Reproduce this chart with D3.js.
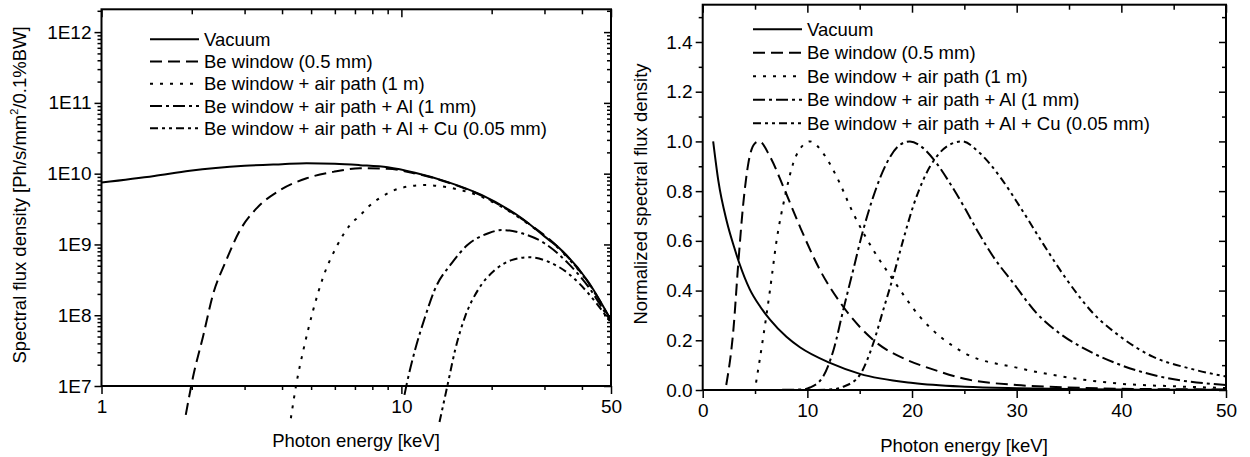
<!DOCTYPE html>
<html>
<head>
<meta charset="utf-8">
<script src="https://cdn.jsdelivr.net/npm/d3@7/dist/d3.min.js"></script>
<style>
  body { margin: 0; background: #fff; }
  svg text { font-family: "Liberation Sans", Arial, sans-serif; fill: #000; }
</style>
</head>
<body>
<script>
// series names, shared by both panels
const seriesNames = [
    "Vacuum",
    "Be window (0.5 mm)",
    "Be window + air path (1 m)",
    "Be window + air path + Al (1 mm)",
    "Be window + air path + Al + Cu (0.05 mm)"
];

// left panel: spectral flux density [Ph/s/mm2/0.1%BW] vs photon energy [keV]
const vacE = [1, 1.5, 1.97, 3.0, 4.0, 4.83, 6.0, 7.27, 9.0, 11.1, 14.3, 18.5, 25.2, 30, 34.2, 42, 50];
const vacF = [7.5e9, 9.3e9, 1.10e10, 1.29e10, 1.36e10, 1.40e10, 1.38e10, 1.32e10, 1.23e10, 1.03e10, 7.6e9, 5.0e9, 2.34e9, 1.3e9, 8.3e8, 2.97e8, 8.5e7];
const beE = [1.91, 2.02, 2.18, 2.36, 2.58, 2.90, 3.29, 3.94, 4.83, 5.93, 7.27, 9.0, 11.1, 14.3, 18.5, 25.2, 34.2, 42, 50];
const beF = [3.9e6, 1.35e7, 4.97e7, 2.04e8, 5.4e8, 1.6e9, 3.24e9, 5.86e9, 8.6e9, 1.06e10, 1.19e10, 1.17e10, 1.01e10, 7.5e9, 4.9e9, 2.3e9, 8.2e8, 2.9e8, 8.4e7];
const airE = [4.28, 4.47, 4.71, 5.08, 5.49, 6.08, 6.74, 7.27, 7.76, 8.59, 10.0, 12.0, 14.3, 18.5, 25.2, 34.2, 42, 50];
const airF = [3.5e6, 1.1e7, 3.2e7, 1.18e8, 3.5e8, 9.3e8, 1.88e9, 2.55e9, 3.4e9, 4.7e9, 6.3e9, 6.9e9, 6.4e9, 4.7e9, 2.25e9, 8.0e8, 2.85e8, 8.3e7];
const alE = [10.24, 10.4, 11.1, 12.0, 12.9, 14.7, 16.6, 19.5, 21.6, 25.2, 30.0, 36.0, 42.0, 48.8, 50];
const alF = [7.5e6, 1.03e7, 3.2e7, 9.5e7, 2.27e8, 5.4e8, 9.8e8, 1.44e9, 1.6e9, 1.44e9, 1.04e9, 5.4e8, 2.53e8, 9.5e7, 8.1e7];
const cuE = [13.4, 14.3, 15.1, 16.3, 18.0, 20.5, 23.3, 26.5, 30.9, 36.0, 42.0, 48.8, 50];
const cuF = [3.1e6, 1.1e7, 3.2e7, 9.5e7, 2.27e8, 4.35e8, 6.0e8, 6.6e8, 5.7e8, 3.9e8, 2.04e8, 9.0e7, 7.8e7];

const xTicksL = [1, 10, 50];
const xTickLabelsL = ["1", "10", "50"];
const xMinorL = [2, 3, 4, 5, 6, 7, 8, 9, 20, 30, 40];
const yTicksL = [1e7, 1e8, 1e9, 1e10, 1e11, 1e12];
const yTickLabelsL = ["1E7", "1E8", "1E9", "1E10", "1E11", "1E12"];

// right panel: normalized spectral flux density vs photon energy [keV]
const vacRE = [1.0, 1.5, 2.29, 3.0, 3.5, 4.5, 5.5, 6.43, 8.0, 9.29, 12.16, 15.02, 20.1, 25.05, 30, 35, 40, 45, 50];
const vacRN = [1.0, 0.84, 0.68, 0.575, 0.51, 0.405, 0.335, 0.283, 0.214, 0.172, 0.109, 0.065, 0.028, 0.013, 0.007, 0.004, 0.002, 0.001, 0.001];
const beRE = [2.25, 2.93, 3.40, 3.88, 4.36, 5.0, 5.4, 6.43, 7.70, 9.29, 11.2, 13.43, 16.3, 19.5, 21.7, 25.0, 30, 35, 40, 45, 50];
const beRN = [0.02, 0.241, 0.510, 0.751, 0.912, 0.993, 1.0, 0.939, 0.818, 0.657, 0.483, 0.335, 0.201, 0.121, 0.087, 0.045, 0.02, 0.010, 0.005, 0.003, 0.002];
const airRE = [5.1, 5.79, 6.43, 7.07, 7.86, 8.65, 9.61, 10.25, 11.52, 12.8, 14.38, 16.3, 18.2, 20.75, 25.05, 30, 35, 40, 45, 50];
const airRN = [0.03, 0.215, 0.402, 0.604, 0.778, 0.912, 0.986, 1.0, 0.952, 0.858, 0.711, 0.563, 0.443, 0.295, 0.148, 0.09, 0.05, 0.025, 0.015, 0.008];
const alRE = [1, 5, 9.5, 10.25, 11.5, 12.5, 13.43, 14.38, 15.34, 16.3, 17.57, 18.84, 19.8, 21.07, 22.35, 23.62, 25.05, 26.2, 27.75, 29.7, 31.9, 34.1, 36.7, 39.9, 43.7, 50];
const alRN = [0, 0, 0.002, 0.01, 0.054, 0.161, 0.322, 0.483, 0.644, 0.778, 0.912, 0.986, 1.0, 0.973, 0.912, 0.832, 0.731, 0.644, 0.537, 0.429, 0.309, 0.228, 0.161, 0.101, 0.054, 0.02];
const cuRE = [1, 5, 10, 12.5, 13.43, 15.0, 16.3, 17.25, 18.2, 19.16, 20.1, 21.07, 22.35, 23.93, 24.8, 26.5, 28.4, 30.3, 32.5, 34.8, 37.3, 39.9, 43.0, 46.5, 50];
const cuRN = [0, 0, 0, 0.003, 0.013, 0.06, 0.188, 0.322, 0.456, 0.604, 0.738, 0.845, 0.939, 0.993, 1.0, 0.952, 0.858, 0.738, 0.59, 0.443, 0.309, 0.215, 0.134, 0.087, 0.054];

const xTicksR = [0, 10, 20, 30, 40, 50];
const xMinorR = [5, 15, 25, 35, 45];
const yTicksR = [0, 0.2, 0.4, 0.6, 0.8, 1.0, 1.2, 1.4];
const yTickLabelsR = ["0.0", "0.2", "0.4", "0.6", "0.8", "1.0", "1.2", "1.4"];
const yMinorR = [0.1, 0.3, 0.5, 0.7, 0.9, 1.1, 1.3, 1.5];

// line styles in series order
const dashes = ["none", "12,6", "3,7", "12,4,3,4", "8,4,3,4,3,4"];

const w = 1250, h = 457;

const svg = d3.select('body').append('svg')
    .attr('width', w)
    .attr('height', h);

svg.append('rect').attr('width', w).attr('height', h).attr('fill', '#fff');

function tickAxis(g, axis, transform) {
    const a = g.append('g')
        .attr('transform', transform)
        .call(axis);
    a.select('.domain').remove();
    a.selectAll('line').attr('stroke', '#000').attr('stroke-width', 1.5);
    a.selectAll('text')
        .attr('font-size', 19)
        .attr('font-family', '"Liberation Sans", Arial, sans-serif')
        .attr('fill', '#000');
    return a;
}

function drawFrame(g, x, y, xMajor, xMinor, yMajor, yMinor, xFmt, yFmt) {
    const [x0, x1] = x.range();
    const [y0, y1] = y.range(); // y0 bottom, y1 top

    // bottom and left: outward, labelled
    tickAxis(g, d3.axisBottom(x).tickValues(xMajor).tickSize(8).tickPadding(6).tickFormat(xFmt), `translate(0,${y0})`);
    tickAxis(g, d3.axisBottom(x).tickValues(xMinor).tickSize(4).tickFormat(''), `translate(0,${y0})`);
    tickAxis(g, d3.axisLeft(y).tickValues(yMajor).tickSize(7).tickPadding(3).tickFormat(yFmt), `translate(${x0},0)`);
    tickAxis(g, d3.axisLeft(y).tickValues(yMinor).tickSize(4).tickFormat(''), `translate(${x0},0)`);

    // top and right: inward, no labels
    tickAxis(g, d3.axisBottom(x).tickValues(xMajor).tickSize(8).tickFormat(''), `translate(0,${y1})`);
    tickAxis(g, d3.axisBottom(x).tickValues(xMinor).tickSize(5).tickFormat(''), `translate(0,${y1})`);
    tickAxis(g, d3.axisLeft(y).tickValues(yMajor).tickSize(7).tickFormat(''), `translate(${x1},0)`);
    tickAxis(g, d3.axisLeft(y).tickValues(yMinor).tickSize(4).tickFormat(''), `translate(${x1},0)`);

    g.append('rect')
        .attr('x', x0).attr('y', y1)
        .attr('width', x1 - x0).attr('height', y0 - y1)
        .attr('fill', 'none')
        .attr('stroke', '#000')
        .attr('stroke-width', 2);
}

function drawCurves(g, x, y, series) {
    const line = d3.line()
        .x(function (d) { return x(d[0]); })
        .y(function (d) { return y(d[1]); })
        .curve(d3.curveMonotoneX);

    series.forEach(function (s, i) {
        g.append('path')
            .datum(d3.zip(s[0], s[1]))
            .attr('d', line)
            .attr('fill', 'none')
            .attr('stroke', '#000')
            .attr('stroke-width', 2)
            .attr('stroke-dasharray', dashes[i]);
    });
}

function drawLegend(g, lx, ly, step) {
    seriesNames.forEach(function (name, i) {
        const yy = ly + i * step;
        g.append('line')
            .attr('x1', lx).attr('x2', lx + 49)
            .attr('y1', yy).attr('y2', yy)
            .attr('stroke', '#000')
            .attr('stroke-width', 2)
            .attr('stroke-dasharray', dashes[i]);
        g.append('text')
            .attr('x', lx + 54).attr('y', yy)
            .attr('dy', '0.35em')
            .attr('font-size', 18.5)
            .text(name);
    });
}

// ---------- left panel ----------
const xL = d3.scaleLog().domain([1, 50]).range([101.5, 611]);
const yL = d3.scaleLog().domain([1e7, 2.1e12]).range([386, 9.3]);

const yMinorL = [];
yTicksL.forEach(function (d) {
    for (let k = 2; k <= 9; k++) {
        if (k * d <= yL.domain()[1]) yMinorL.push(k * d);
    }
});

const gL = svg.append('g');
drawFrame(gL, xL, yL, xTicksL, xMinorL, yTicksL, yMinorL,
    function (d) { return xTickLabelsL[xTicksL.indexOf(d)]; },
    function (d) { return yTickLabelsL[yTicksL.indexOf(d)]; });
drawCurves(gL, xL, yL, [[vacE, vacF], [beE, beF], [airE, airF], [alE, alF], [cuE, cuF]]);
drawLegend(gL, 150, 39.3, 22.25);

gL.append('text')
    .attr('x', 356).attr('y', 447)
    .attr('text-anchor', 'middle')
    .attr('font-size', 18.5)
    .text('Photon energy [keV]');

const ylab = gL.append('text')
    .attr('transform', 'translate(25.5,195) rotate(-90)')
    .attr('text-anchor', 'middle')
    .attr('font-size', 18.5);
ylab.append('tspan').text('Spectral flux density [Ph/s/mm');
ylab.append('tspan').attr('font-size', 11).attr('dy', -8).text('2');
ylab.append('tspan').attr('dy', 8).text('/0.1%BW]');

// ---------- right panel ----------
const xR = d3.scaleLinear().domain([0, 50]).range([702.7, 1226]);
const yR = d3.scaleLinear().domain([0, 1.55]).range([390, 4.7]);

const gR = svg.append('g');
drawFrame(gR, xR, yR, xTicksR, xMinorR, yTicksR, yMinorR,
    d3.format('d'),
    function (d) { return yTickLabelsR[yTicksR.indexOf(d)]; });
drawCurves(gR, xR, yR, [[vacRE, vacRN], [beRE, beRN], [airRE, airRN], [alRE, alRN], [cuRE, cuRN]]);
drawLegend(gR, 753, 29.3, 23.5);

gR.append('text')
    .attr('x', 964).attr('y', 451.5)
    .attr('text-anchor', 'middle')
    .attr('font-size', 18.5)
    .text('Photon energy [keV]');

gR.append('text')
    .attr('transform', 'translate(647,194) rotate(-90)')
    .attr('text-anchor', 'middle')
    .attr('font-size', 18.5)
    .text('Normalized spectral flux density');
</script>
</body>
</html>
